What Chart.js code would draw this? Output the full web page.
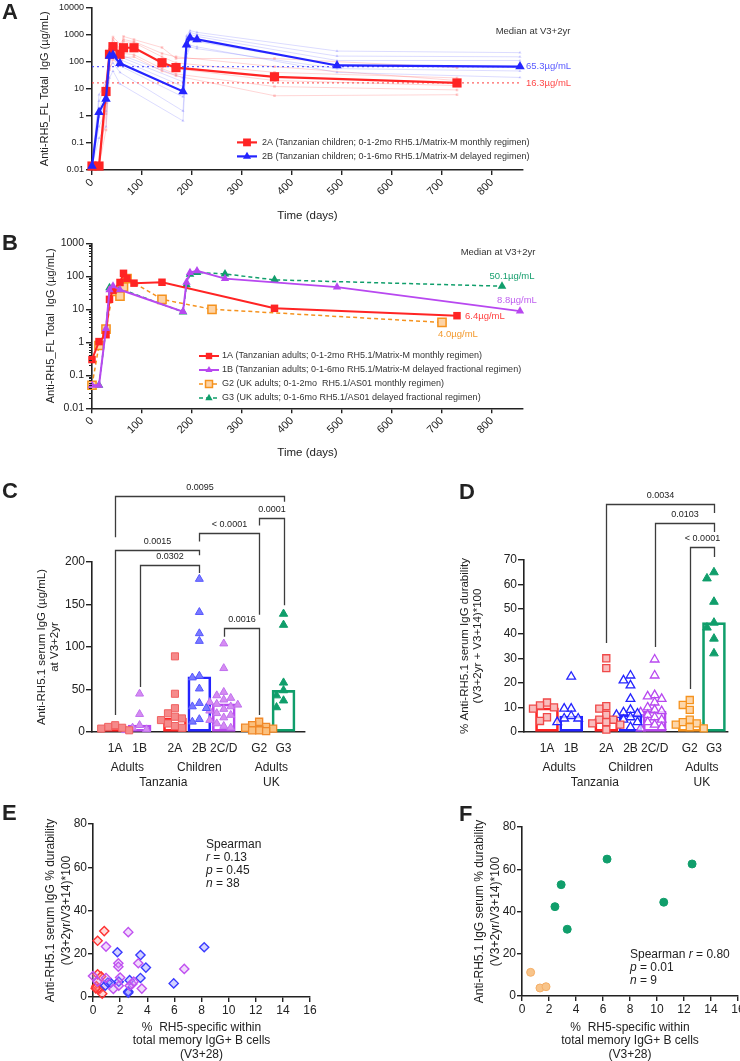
<!DOCTYPE html>
<html>
<head>
<meta charset="utf-8">
<title>RH5.1 antibody durability</title>
<script src="https://cdn.jsdelivr.net/npm/chart.js@4.4.1/dist/chart.umd.min.js"></script>
<style>
  html, body { margin: 0; padding: 0; background: #fff; }
  body { position: relative; width: 740px; height: 1061px; overflow: hidden;
         font-family: "Liberation Sans", Arial, sans-serif; color: #222; }
  canvas { position: absolute; }
  .tag { position: absolute; font-size: 22px; font-weight: bold; line-height: 1; }
  .stat { position: absolute; font-size: 12px; line-height: 13px; white-space: nowrap; }
</style>
</head>
<body>
<canvas id="chartA" width="740" height="225" style="left:0;top:0"></canvas>
<canvas id="chartB" width="740" height="235" style="left:0;top:225px"></canvas>
<canvas id="chartC" width="370" height="338" style="left:0;top:462px"></canvas>
<canvas id="chartD" width="370" height="338" style="left:370px;top:462px"></canvas>
<canvas id="chartE" width="370" height="261" style="left:0;top:800px"></canvas>
<canvas id="chartF" width="380" height="261" style="left:370px;top:800px"></canvas>

<div class="tag" style="left:2px;top:1px">A</div>
<div class="tag" style="left:2px;top:232px">B</div>
<div class="tag" style="left:2px;top:480px">C</div>
<div class="tag" style="left:459px;top:481px">D</div>
<div class="tag" style="left:2px;top:802px">E</div>
<div class="tag" style="left:459px;top:803px">F</div>

<div class="stat" style="left:206px;top:838px">Spearman<br><i>r</i> = 0.13<br><i>p</i> = 0.45<br><i>n</i> = 38</div>
<div class="stat" style="left:630px;top:948px">Spearman <i>r</i> = 0.80<br><i>p</i> = 0.01<br><i>n</i> = 9</div>

<script>
// ---------- Panel A: Tanzanian children ----------
const daysA2A = [0, 14, 28, 35, 42, 56, 63, 84, 140, 168, 365, 730];
const medianA2A = [0.014, 0.014, 7.9, 186, 355, 186, 324, 324, 91, 60, 27.5, 16.3];
const subjectsA2A = [
  [0.014, 0.014, 3, 130, 650, 300, 550, 500, 150, 90, 40, 25],
  [0.014, 0.014, 18, 280, 350, 160, 850, 650, 330, 130, 130, 60],
  [0.014, 0.014, 1.2, 70, 200, 90, 200, 180, 55, 35, 12, 9],
  [0.014, 0.014, 10, 300, 500, 280, 400, 350, 80, 55, 20, 13],
  [0.014, 0.014, 0.3, 50, 120, 70, 140, 150, 45, 30, 5.5, 6],
  [0.014, 0.014, 6, 200, 800, 450, 650, 550, 200, 150, 65, 20]
];
const daysA2B = [0, 14, 28, 35, 42, 56, 182, 189, 196, 210, 490, 856];
const medianA2B = [0.014, 1.35, 4.2, 160, 175, 87, 7.9, 420, 760, 660, 72, 65.3];
const subjectsA2B = [
  [0.014, 3.5, 12, 380, 400, 180, 25, 900, 1400, 1200, 245, 214],
  [0.014, 0.4, 1.5, 60, 90, 40, 1.5, 200, 400, 350, 40, 26],
  [0.014, 1.8, 7, 220, 250, 120, 12, 600, 1000, 850, 110, 110],
  [0.014, 0.15, 0.4, 25, 45, 15, 0.65, 150, 350, 300, 55, 45],
  [0.014, 6, 18, 300, 280, 150, 18, 750, 1200, 1000, 160, 150],
  [0.014, 0.9, 3, 120, 140, 70, 5, 350, 650, 550, 75, 60]
];

// ---------- Panel B: adults ----------
const daysB1A = [0, 14, 28, 35, 42, 56, 63, 70, 84, 140, 365, 730];
const medianB1A = [0.3, 1.05, 1.7, 20, 38, 65, 123, 87, 62, 66, 10.7, 6.4];
const daysB1B = [0, 14, 28, 35, 42, 56, 182, 189, 196, 210, 266, 490, 856];
const medianB1B = [0.05, 0.05, 2.6, 39, 51, 39, 8.5, 66, 129, 147, 85, 47, 8.8];
const daysBG2 = [0, 14, 28, 42, 56, 63, 70, 140, 240, 700];
const medianBG2 = [0.05, 0.8, 2.5, 35, 25, 48, 85, 20, 10, 4.0];
const daysBG3 = [0, 14, 28, 35, 56, 182, 189, 196, 210, 266, 365, 820];
const medianBG3 = [0.05, 0.05, 2.6, 45, 42, 8.3, 55, 115, 130, 118, 78, 50.1];

const timeTicks = [0, 100, 200, 300, 400, 500, 600, 700, 800];
const logTicksA = [0.01, 0.1, 1, 10, 100, 1000, 10000];
const logTicksB = [0.01, 0.1, 1, 10, 100, 1000];

// ---------- Panels C and D: groups ----------
const cats = ['1A', '1B', '2A', '2B', '2C/D', 'G2', 'G3'];
const catGroup = [0, 0, 1, 1, 1, 2, 2];
const ageGroups = ['Adults', 'Children', 'Adults'];
const countries = [{ name: 'Tanzania', groups: [0, 1] }, { name: 'UK', groups: [2] }];

const igg1A = [8, 6, 5, 4, 2];
const igg1B = [45, 21, 8, 5, 3, 2];
const igg2A = [89, 45, 28, 22, 18, 16, 14, 10, 7, 5];
const igg2B = [180, 141, 116, 107, 66, 64, 51, 34, 30, 28, 15, 12];
const igg2CD = [104, 75, 47, 43, 40, 38, 35, 33, 32, 30, 27, 25, 22, 20, 17, 14, 10, 7, 5];
const iggG2 = [12, 8, 6, 5, 4, 3, 2, 2, 1];
const iggG3 = [139, 126, 58, 49, 43, 37, 29];
const iggMedian = [6, 8, 16.5, 65, 33, 5, 49];
const iggTicks = [0, 50, 100, 150, 200];
const iggTests = [
  { from: '1A', to: 'G3', p: '0.0095', level: 278, fromEnd: 229, toEnd: 271 },
  { from: 'G2', to: 'G3', p: '0.0001', level: 252, fromEnd: 243, toEnd: 149 },
  { from: '2B', to: 'G2', p: '< 0.0001', level: 234, fromEnd: 224, toEnd: 138 },
  { from: '1A', to: '2B', p: '0.0015', level: 214, fromEnd: 20, toEnd: 208 },
  { from: '1B', to: '2B', p: '0.0302', level: 196, fromEnd: 53, toEnd: 187 },
  { from: '2C/D', to: 'G2', p: '0.0016', level: 122, fromEnd: 112, toEnd: 20 }
];

const dur1A = [12, 10.8, 10, 9.5, 6, 4.5];
const dur1B = [22.5, 9.5, 9.5, 6.5, 5.5, 5.5, 4];
const dur2A = [30, 26, 10.5, 9.5, 7, 5, 5, 4, 3.5, 3, 1];
const dur2B = [23, 21, 19, 13.5, 9, 8, 7.5, 7, 6, 5, 4, 2];
const dur2CD = [29.5, 23, 15, 14.5, 13.5, 12, 10, 9, 8.5, 8, 7, 6, 5, 4, 3, 2, 1.5];
const durG2 = [13, 11, 9, 5, 4, 3.5, 3, 2, 1.5];
const durG3 = [65, 62.5, 53, 44.5, 42.5, 38, 32];
const durMedian = [9.8, 6.5, 5.5, 7, 8.5, 4, 44.5];
const durTicks = [0, 10, 20, 30, 40, 50, 60, 70];
const durTests = [
  { from: '2A', to: 'G3', p: '0.0034', level: 92.8, fromEnd: 36.2, toEnd: 89.1 },
  { from: '2C/D', to: 'G3', p: '0.0103', level: 85.1, fromEnd: 34.6, toEnd: 81.4 },
  { from: 'G2', to: 'G3', p: '< 0.0001', level: 75.3, fromEnd: 17.5, toEnd: 71.2 }
];

// ---------- Panels E and F: % RH5-specific memory B cells vs durability ----------
const corr2A = [[0.83, 30.5], [0.34, 26], [0.34, 10.5], [0.6, 9.5], [0.25, 5], [0.34, 3.7], [0.5, 3.7], [0.68, 1.5], [0.2, 4]];
const corr2CD = [[2.6, 30], [0.96, 23.3], [6.73, 13], [1.87, 15.6], [1.87, 14], [3.34, 15.6], [0.0, 9.7], [0.96, 8.8],
  [2.0, 9], [0.34, 7.1], [1.9, 5.2], [1.5, 3.7], [2.9, 6], [2.7, 5.2], [3.6, 3.9], [3.0, 7.1]];
const corr2B = [[1.8, 20.7], [3.5, 19.4], [3.9, 13.6], [8.2, 23], [5.95, 6.3], [2.7, 7.8], [3.5, 8.8], [0.9, 5.2],
  [1.1, 6.7], [1.9, 7.1], [2.6, 2.6], [2.6, 2.0], [1.3, 6.5]];
const corrG3 = [[6.3, 64.8], [12.6, 62.5], [2.9, 52.7], [2.44, 42.3], [10.5, 44.4], [3.35, 31.6]];
const corrG2 = [[0.64, 11.2], [1.33, 3.8], [1.78, 4.4]];
const pctTicks = [0, 2, 4, 6, 8, 10, 12, 14, 16];
const durCorrTicks = [0, 20, 40, 60, 80];

// ---------- styling ----------
const INK = '#222';
const FONT = '"Liberation Sans", Arial, Helvetica, sans-serif';
const RED = '#FF2424', BLUE = '#2424FF', PURPLE = '#B848F0', ORANGE = '#F5921E', GREEN = '#109E6B';
Chart.defaults.font.family = FONT;
Chart.defaults.color = INK;

const pts = (xs, ys) => xs.map((x, i) => ({ x: x, y: ys[i] }));
const pairs = list => list.map(p => ({ x: p[0], y: p[1] }));

function axis(o) {
  return {
    type: o.type || 'linear', min: o.min, max: o.max, offset: false,
    afterBuildTicks: o.ticks ? s => { s.ticks = o.ticks.map(v => ({ value: v })); } : undefined,
    afterFit: s => { if (s.isHorizontal()) s.height = o.box; else s.width = o.box; },
    border: { display: true, color: INK, width: 1.6 },
    grid: { display: true, drawOnChartArea: false, drawTicks: o.tick !== 0, tickLength: o.tick || 5,
            color: INK, lineWidth: 1.4, offset: false },
    ticks: { color: INK, font: { size: o.tickSize || 12 }, padding: o.pad === undefined ? 2 : o.pad,
             minRotation: o.rot || 0, maxRotation: o.rot || 0, autoSkip: false,
             callback: o.label || (v => String(v)) },
    title: { display: !!o.title, text: o.title, color: INK,
             font: { size: o.titleSize || 12, lineHeight: o.titleLH || 1.2 }, padding: o.titlePad || 0 }
  };
}

const baseOptions = pad => ({
  responsive: false, animation: false, devicePixelRatio: 1,
  layout: { padding: pad },
  plugins: { legend: { display: false }, tooltip: { enabled: false } }
});

// legend drawn inside the plot (A, B), rows sorted by legendRank
function makeLegend(dx, dy, rowH, textGap) {
  return {
    id: 'insideLegend',
    afterDraw(chart) {
      const { ctx, chartArea } = chart;
      const x = chartArea.left + dx;
      let y = chartArea.top + dy;
      chart.data.datasets.filter(d => d.legendText)
        .sort((a, b) => a.legendRank - b.legendRank)
        .forEach(d => {
          ctx.save();
          ctx.strokeStyle = d.borderColor; ctx.lineWidth = d.borderWidth;
          ctx.setLineDash(d.borderDash || []);
          ctx.beginPath(); ctx.moveTo(x - 10, y); ctx.lineTo(x + 10, y); ctx.stroke();
          ctx.setLineDash([]);
          ctx.fillStyle = d.pointBackgroundColor || d.backgroundColor;
          ctx.strokeStyle = d.pointBorderColor || d.borderColor;
          const bw = d.pointBorderWidth === undefined ? 1 : d.pointBorderWidth;
          ctx.lineWidth = bw;
          Chart.helpers.drawPoint(ctx, { pointStyle: d.pointStyle, radius: d.pointRadius * 0.85, rotation: 0, borderWidth: bw }, x, y);
          ctx.fillStyle = '#333'; ctx.font = '9px ' + FONT;
          ctx.textAlign = 'left'; ctx.textBaseline = 'middle';
          ctx.fillText(d.legendText, x + textGap, y);
          ctx.restore();
          y += rowH;
        });
    }
  };
}

function makeNote(text, dx, dy) {
  return {
    id: 'note',
    afterDraw(chart) {
      const { ctx, chartArea } = chart;
      ctx.save();
      ctx.fillStyle = '#333'; ctx.font = '9.5px ' + FONT;
      ctx.textAlign = 'center'; ctx.textBaseline = 'middle';
      ctx.fillText(text, chartArea.right + dx, chartArea.top + dy);
      ctx.restore();
    }
  };
}

// value labels next to the final (V3+2yr) point
const endLabels = {
  id: 'endLabels',
  afterDatasetsDraw(chart) {
    const ctx = chart.ctx;
    chart.data.datasets.forEach((ds, i) => {
      if (!ds.endLabel) return;
      const meta = chart.getDatasetMeta(i);
      const el = meta.data[meta.data.length - 1];
      const v = ds.data[ds.data.length - 1].y;
      const o = ds.endLabel;
      ctx.save();
      ctx.font = '9.5px ' + FONT; ctx.fillStyle = o.color;
      ctx.textAlign = o.align || 'left'; ctx.textBaseline = 'middle';
      ctx.fillText(v.toFixed(1) + 'µg/mL', el.x + o.dx, el.y + o.dy);
      ctx.restore();
    });
  }
};

const minorLogTicks = {
  id: 'minorLogTicks',
  afterDraw(chart) {
    const { ctx, scales: { y } } = chart;
    ctx.save(); ctx.strokeStyle = INK; ctx.lineWidth = 1;
    for (let d = -2; d < 3; d++) {
      for (let m = 2; m < 10; m++) {
        const py = Math.round(y.getPixelForValue(m * Math.pow(10, d))) + 0.5;
        ctx.beginPath(); ctx.moveTo(y.right - 3, py); ctx.lineTo(y.right, py); ctx.stroke();
      }
    }
    ctx.restore();
  }
};

function subjectLine(days, vals, color, shape) {
  return { data: pts(days, vals), borderColor: color, backgroundColor: color, borderWidth: 0.8,
           pointStyle: shape, pointRadius: 1.8, pointBorderWidth: 0, order: 3 };
}

// ---------- Chart A ----------
const datasetsA = [];
subjectsA2A.forEach(s => datasetsA.push(subjectLine(daysA2A, s, 'rgba(255,70,70,0.28)', 'rect')));
subjectsA2B.forEach(s => datasetsA.push(subjectLine(daysA2B, s, 'rgba(80,80,255,0.25)', 'triangle')));
datasetsA.push(
  { data: [{ x: 0, y: medianA2B[medianA2B.length - 1] }, { x: 860, y: medianA2B[medianA2B.length - 1] }],
    borderColor: 'rgba(70,70,255,0.85)', borderWidth: 1.3, borderDash: [2, 3], pointRadius: 0, order: 2,
    endLabel: { color: '#5a5aff', dx: 4, dy: 0 } },
  { data: [{ x: 0, y: medianA2A[medianA2A.length - 1] }, { x: 860, y: medianA2A[medianA2A.length - 1] }],
    borderColor: 'rgba(255,70,70,0.85)', borderWidth: 1.3, borderDash: [2, 3], pointRadius: 0, order: 2,
    endLabel: { color: '#ff4a4a', dx: 4, dy: 0 } },
  { data: pts(daysA2A, medianA2A), borderColor: RED, backgroundColor: RED, borderWidth: 2.2,
    pointStyle: 'rect', pointRadius: 6.5, pointBorderWidth: 0, clip: false, order: 1, legendRank: 1,
    legendText: '2A (Tanzanian children; 0-1-2mo RH5.1/Matrix-M monthly regimen)' },
  { data: pts(daysA2B, medianA2B), borderColor: BLUE, backgroundColor: BLUE, borderWidth: 2.2,
    pointStyle: 'triangle', pointRadius: 5.5, pointBorderWidth: 0, clip: false, order: 0, legendRank: 2,
    legendText: '2B (Tanzanian children; 0-1-6mo RH5.1/Matrix-M delayed regimen)' }
);

new Chart(document.getElementById('chartA'), {
  type: 'line',
  data: { datasets: datasetsA },
  options: Object.assign(baseOptions({ left: 0, top: 6, right: 217, bottom: 0 }), {
    scales: {
      x: axis({ min: 0, max: 862, ticks: timeTicks, box: 55, rot: 45, tickSize: 11, pad: 1,
                title: 'Time (days)', titleSize: 11.5, titlePad: { top: 0, bottom: 2 } }),
      y: axis({ type: 'logarithmic', min: 0.01, max: 10000, ticks: logTicksA, box: 92, tick: 6, tickSize: 9, pad: 2,
                title: 'Anti-RH5_FL Total  IgG (µg/mL)', titleSize: 11, titlePad: { top: 38.4, bottom: 0 } })
    }
  }),
  plugins: [makeLegend(155, 135, 14, 15), makeNote('Median at V3+2yr', 10, 24), endLabels]
});

// ---------- Chart B ----------
new Chart(document.getElementById('chartB'), {
  type: 'line',
  data: {
    datasets: [
      { data: pts(daysBG3, medianBG3), borderColor: GREEN, backgroundColor: GREEN, borderWidth: 1.5,
        borderDash: [4, 3], pointStyle: 'triangle', pointRadius: 5, pointBorderWidth: 0, clip: false, order: 4,
        endLabel: { color: '#1aa070', dx: 10, dy: -10, align: 'center' }, legendRank: 4,
        legendText: 'G3 (UK adults; 0-1-6mo RH5.1/AS01 delayed fractional regimen)' },
      { data: pts(daysBG2, medianBG2), borderColor: ORANGE, backgroundColor: '#FDD3A5', borderWidth: 1.5,
        borderDash: [4, 3], pointStyle: 'rect', pointRadius: 5.8, pointBorderColor: ORANGE, pointBorderWidth: 1.5,
        clip: false, order: 3, endLabel: { color: '#f39a2e', dx: 16, dy: 12, align: 'center' }, legendRank: 3,
        legendText: 'G2 (UK adults; 0-1-2mo  RH5.1/AS01 monthly regimen)' },
      { data: pts(daysB1A, medianB1A), borderColor: RED, backgroundColor: RED, borderWidth: 2,
        pointStyle: 'rect', pointRadius: 5.3, pointBorderWidth: 0, clip: false, order: 2,
        endLabel: { color: '#ff4040', dx: 8, dy: 1, align: 'left' }, legendRank: 1,
        legendText: '1A (Tanzanian adults; 0-1-2mo RH5.1/Matrix-M monthly regimen)' },
      { data: pts(daysB1B, medianB1B), borderColor: PURPLE, backgroundColor: PURPLE, borderWidth: 2,
        pointStyle: 'triangle', pointRadius: 4.8, pointBorderWidth: 0, clip: false, order: 1,
        endLabel: { color: '#c060f0', dx: -3, dy: -11, align: 'center' }, legendRank: 2,
        legendText: '1B (Tanzanian adults; 0-1-6mo RH5.1/Matrix-M delayed fractional regimen)' }
    ]
  },
  options: Object.assign(baseOptions({ left: 0, top: 18.3, right: 217, bottom: 0 }), {
    scales: {
      x: axis({ min: 0, max: 862, ticks: timeTicks, box: 51.7, rot: 45, tickSize: 11, pad: 1,
                title: 'Time (days)', titleSize: 11.5, titlePad: { top: 0, bottom: 0 } }),
      y: axis({ type: 'logarithmic', min: 0.01, max: 1000, ticks: logTicksB, box: 92, tick: 6, tickSize: 10.5, pad: 2,
                title: 'Anti-RH5_FL Total  IgG (µg/mL)', titleSize: 11, titlePad: { top: 44.4, bottom: 0 } })
    }
  }),
  plugins: [minorLogTicks, endLabels, makeNote('Median at V3+2yr', -25, 8.7), makeLegend(117, 112.7, 14, 13)]
});

// ---------- Charts C and D ----------
const GROUP_GAP = 0.45;
const X_MIN = -0.95;
const catPos = cats.map((c, i) => i + catGroup[i] * GROUP_GAP);

// spread points that would overlap, like a column scatter
function swarm(values, centre, xUnit, yUnit, markPx) {
  const dx = markPx / xUnit, dy = markPx / yUnit;
  const slots = [0, -1, 1, -2, 2, -0.5, 0.5, -1.5, 1.5];
  const placed = [];
  values.slice().sort((a, b) => b - a).forEach(v => {
    let best = centre, bestHits = Infinity;
    for (const s of slots) {
      const x = centre + s * dx;
      const hits = placed.filter(p => Math.abs(p.y - v) < dy && Math.abs(p.x - x) < dx * 0.95).length;
      if (hits < bestHits) { best = x; bestHits = hits; }
      if (hits === 0) break;
    }
    placed.push({ x: best, y: v });
  });
  return placed;
}

function makeBrackets(list) {
  return {
    id: 'brackets',
    afterDraw(chart) {
      const { ctx, scales: { x, y } } = chart;
      ctx.save();
      ctx.strokeStyle = '#3c3c3c'; ctx.lineWidth = 1.3;
      ctx.fillStyle = INK; ctx.font = '9px ' + FONT; ctx.textAlign = 'center'; ctx.textBaseline = 'bottom';
      list.forEach(c => {
        const xa = Math.round(x.getPixelForValue(catPos[cats.indexOf(c.from)])) + 0.5;
        const xb = Math.round(x.getPixelForValue(catPos[cats.indexOf(c.to)])) + 0.5;
        const yt = Math.round(y.getPixelForValue(c.level)) + 0.5;
        ctx.beginPath();
        ctx.moveTo(xa, y.getPixelForValue(c.fromEnd)); ctx.lineTo(xa, yt);
        ctx.lineTo(xb, yt); ctx.lineTo(xb, y.getPixelForValue(c.toEnd));
        ctx.stroke();
        ctx.fillText(c.p, (xa + xb) / 2, yt - 4);
      });
      ctx.restore();
    }
  };
}

function makeGroupLabels() {
  return {
    id: 'groupLabels',
    afterDraw(chart) {
      const { ctx, chartArea, scales: { x } } = chart;
      const centre = g => {
        const m = catPos.filter((p, i) => catGroup[i] === g);
        return (Math.min(...m) + Math.max(...m)) / 2;
      };
      ctx.save();
      ctx.fillStyle = INK; ctx.font = '12px ' + FONT; ctx.textAlign = 'center'; ctx.textBaseline = 'middle';
      ageGroups.forEach((name, g) => ctx.fillText(name, x.getPixelForValue(centre(g)), chartArea.bottom + 36));
      countries.forEach(c => {
        const v = c.groups.map(centre).reduce((a, b) => a + b, 0) / c.groups.length;
        ctx.fillText(c.name, x.getPixelForValue(v), chartArea.bottom + 51);
      });
      ctx.restore();
    }
  };
}

function dotBarChart(id, s) {
  const xUnit = s.plotW / (s.xMax - X_MIN);
  const yUnit = s.plotH / s.yMax;
  const datasets = [{
    type: 'bar',
    data: catPos.map((p, i) => ({ x: p, y: s.medians[i] })),
    backgroundColor: 'rgba(255,255,255,0)', borderColor: s.barColors, borderWidth: 2,
    borderSkipped: false, barThickness: 23, order: 2
  }];
  s.values.forEach((vals, i) => {
    const st = s.marks[i];
    datasets.push({
      type: 'scatter', data: swarm(vals, catPos[i], xUnit, yUnit, 7),
      pointStyle: st[0], pointRadius: st[1], backgroundColor: st[2], borderColor: st[3], borderWidth: st[4],
      clip: false, order: 1
    });
  });
  return new Chart(document.getElementById(id), {
    type: 'bar',
    data: { datasets: datasets },
    options: Object.assign(baseOptions({ left: 0, top: s.padTop, right: s.padRight, bottom: 0 }), {
      scales: {
        x: axis({ min: X_MIN, max: s.xMax, ticks: catPos, box: 68, tick: 0, pad: 9, label: (v, i) => cats[i] }),
        y: axis({ min: 0, max: s.yMax, ticks: s.yTicks, box: s.yBox, tick: 6, pad: 1,
                  title: s.yTitle, titleSize: 11.5, titleLH: s.titleLH, titlePad: { top: s.titleTop, bottom: 0 } })
      }
    }),
    plugins: [makeGroupLabels(), makeBrackets(s.tests)]
  });
}

const redSq = '#F58A8A', redSqLine = '#F06060', lilac = '#D58CF2', lilacLine = '#C070EE';
dotBarChart('chartC', {
  values: [igg1A, igg1B, igg2A, igg2B, igg2CD, iggG2, iggG3],
  medians: iggMedian, yTicks: iggTicks, yMax: 200, tests: iggTests,
  barColors: [RED, PURPLE, RED, BLUE, PURPLE, ORANGE, GREEN],
  marks: [
    ['rect', 5, redSq, redSqLine, 1], ['triangle', 4.6, lilac, lilacLine, 1],
    ['rect', 5, redSq, redSqLine, 1], ['triangle', 4.6, '#7A7AFF', '#5555FF', 1],
    ['triangle', 4.6, lilac, lilacLine, 1], ['rect', 5, '#FBC07E', '#F0892A', 1.3],
    ['triangle', 4.8, GREEN, GREEN, 1]
  ],
  plotW: 213, plotH: 170, xMax: 7.78, padTop: 100, padRight: 65, yBox: 92,
  yTitle: ['Anti-RH5.1 serum IgG (µg/mL)', 'at V3+2yr'], titleLH: 1.1, titleTop: 35.7
});

dotBarChart('chartD', {
  values: [dur1A, dur1B, dur2A, dur2B, dur2CD, durG2, durG3],
  medians: durMedian, yTicks: durTicks, yMax: 70, tests: durTests,
  barColors: [RED, BLUE, RED, BLUE, PURPLE, ORANGE, GREEN],
  marks: [
    ['rect', 5, '#F9BCBC', '#F04848', 1.3], ['triangle', 5, 'rgba(255,255,255,0.7)', BLUE, 1.3],
    ['rect', 5, '#F9BCBC', '#F04848', 1.3], ['triangle', 5, 'rgba(255,255,255,0.7)', BLUE, 1.3],
    ['triangle', 5, 'rgba(255,255,255,0.7)', PURPLE, 1.3], ['rect', 5, '#FCD6AA', ORANGE, 1.3],
    ['triangle', 5, GREEN, GREEN, 1]
  ],
  plotW: 204, plotH: 172, xMax: 7.48, padTop: 98, padRight: 12, yBox: 154,
  yTitle: ['% Anti-RH5.1 serum IgG durability', '(V3+2yr + V3+14)*100'], titleLH: 1.16, titleTop: 88.3
});

// ---------- Charts E and F ----------
const pctTitle = ['%  RH5-specific within', 'total memory IgG+ B cells', '(V3+28)'];
function corrChart(id, sets, s) {
  return new Chart(document.getElementById(id), {
    type: 'scatter',
    data: {
      datasets: sets.map(d => ({
        data: pairs(d.values), pointStyle: d.shape, pointRadius: d.r,
        backgroundColor: d.fill, borderColor: d.line, borderWidth: d.bw, clip: false
      }))
    },
    options: Object.assign(baseOptions({ left: 0, top: s.padTop, right: s.padRight, bottom: 0 }), {
      scales: {
        x: axis({ min: 0, max: 16, ticks: pctTicks, box: s.xBox, tick: 5, pad: 1,
                  title: pctTitle, titleSize: 12, titleLH: 1.125, titlePad: { top: 0, bottom: 0 } }),
        y: axis({ min: 0, max: 80, ticks: durCorrTicks, box: s.yBox, tick: 5, pad: 1,
                  title: s.yTitle, titleSize: 12, titleLH: 1.33, titlePad: { top: s.titleTop, bottom: 0 } })
      }
    })
  });
}

corrChart('chartE', [
  { values: corr2CD, shape: 'rectRot', r: 4.6, fill: 'rgba(215,150,245,0.35)', line: '#C050F0', bw: 1.4 },
  { values: corr2B, shape: 'rectRot', r: 4.6, fill: 'rgba(130,130,255,0.35)', line: '#3A3AFF', bw: 1.4 },
  { values: corr2A, shape: 'rectRot', r: 4.6, fill: 'rgba(255,150,150,0.35)', line: '#FF3030', bw: 1.4 }
], { padTop: 24, padRight: 60, xBox: 64, yBox: 93, titleTop: 42.7,
     yTitle: ['Anti-RH5.1 serum IgG % durability', '(V3+2yr/V3+14)*100'] });

corrChart('chartF', [
  { values: corrG3, shape: 'circle', r: 4, fill: GREEN, line: GREEN, bw: 1 },
  { values: corrG2, shape: 'circle', r: 4, fill: '#F8C48A', line: '#F5AE66', bw: 1 }
], { padTop: 27, padRight: 12, xBox: 65, yBox: 152, titleTop: 102,
     yTitle: ['Anti-RH5.1 IgG serum % durability', '(V3+2yr/V3+14)*100'] });
</script>
</body>
</html>
